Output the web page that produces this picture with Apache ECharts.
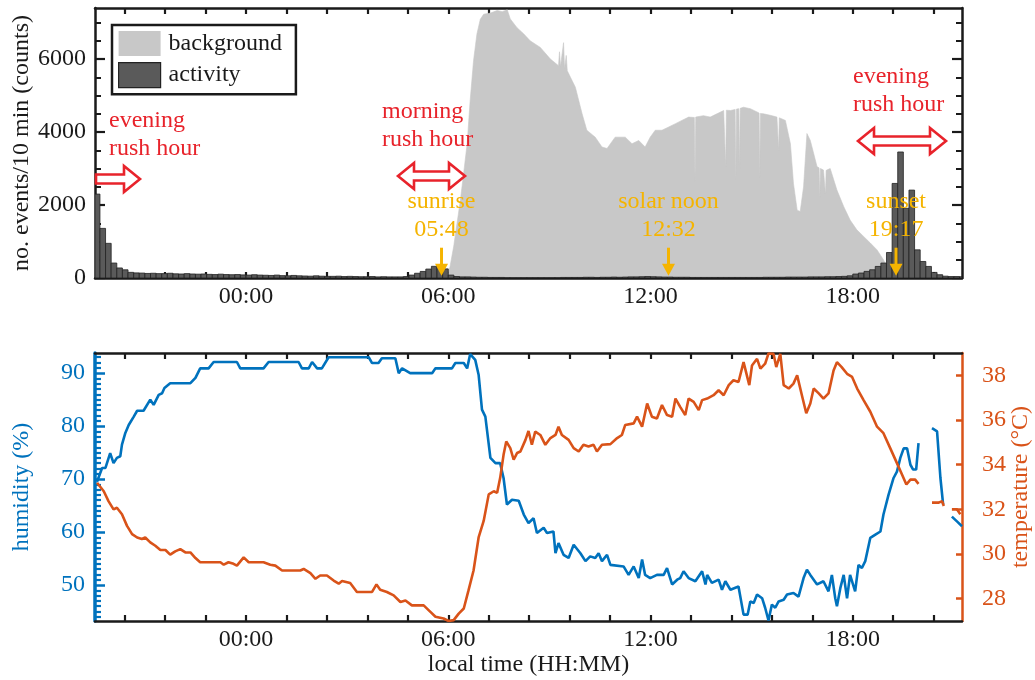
<!DOCTYPE html>
<html><head><meta charset="utf-8">
<script src="https://cdn.jsdelivr.net/npm/echarts@6/dist/echarts.min.js"></script>
<style>html,body{margin:0;padding:0;background:#fff}#c{width:1035px;height:680px}</style>
</head><body><div id="c"></div>
<script>
// ---------------- data ----------------
// x values are hours relative to local midnight (negative = previous evening)
const xTickHours = [-3.6,-2.4,-1.2,0,1.2,2.4,3.6,4.8,6,7.2,8.4,9.6,10.8,12,13.2,14.4,15.6,16.8,18,19.2,20.4];
const xLabelHours = [0,6,12,18];
const countLabels = [0,2000,4000,6000];
const countMinorTicks = [500,1000,1500,2500,3000,3500,4500,5000,5500,6500,7000];
const humidityLabels = [50,60,70,80,90];
const humidityMinorTicks = [44,45,46,47,48,49,51,52,53,54,55,56,57,58,59,61,62,63,64,65,66,67,68,69,71,72,73,74,75,76,77,78,79,81,82,83,84,85,86,87,88,89,91,92,93];
const temperatureLabels = [28,30,32,34,36,38];

// activity: 10-min bins starting 19:30 (previous day)
const activityFirstBin = -4.5;
const activityBinHours = 1/6;
const activity = [
  2300,1360,950,410,275,225,   // 19:30
  155,140,135,125,130,120,     // 20:30
  120,130,115,110,120,110,     // 21:30
  105,110,100,95,105,95,       // 22:30
  90,95,85,80,90,80,           // 23:30
  75,70,80,65,60,70,           // 00:30
  60,55,50,60,50,45,           // 01:30
  45,50,40,45,40,35,           // 02:30
  35,40,30,35,30,30,           // 03:30
  30,40,80,130,180,245,        // 04:30
  320,360,250,80,40,30,        // 05:30
  30,25,20,20,15,15,           // 06:30
  15,10,10,10,10,10,           // 07:30
  10,10,10,10,10,15,           // 08:30
  15,15,15,20,20,15,           // 09:30
  20,20,25,20,25,30,           // 10:30
  30,35,40,35,30,25,           // 11:30
  25,20,20,20,15,15,           // 12:30
  15,15,15,15,15,15,           // 13:30
  15,15,15,15,15,20,           // 14:30
  20,20,20,25,25,25,           // 15:30
  25,30,30,30,35,35,           // 16:30
  40,45,60,108,136,181,        // 17:30
  226,317,409,699,2592,3454,   // 18:30
  1910,2409,772,453,317,153,   // 19:30
  90,50,40,40,35,35            // 20:30
];

// background counts per 10 min  [hour, counts]
const background = [
  [5.95,0],[6.05,300],[6.16,860],[6.26,1500],[6.36,2140],[6.46,2900],[6.56,3680],[6.65,4870],[6.75,5960],
  [6.85,6690],[6.95,7090],[7.05,7230],[7.25,7260],[7.45,7330],[7.6,7300],[7.75,7350],[7.84,7100],[8.04,6860],
  [8.24,6690],[8.43,6500],[8.73,6320],[9.03,6000],[9.27,5820],[9.30,6200],[9.33,5800],[9.42,6450],[9.45,5750],
  [9.50,6100],[9.53,5680],[9.77,5230],[9.97,4500],[10.11,4050],[10.36,3860],[10.56,3590],[10.71,3550],[10.95,3860],
  [11.25,3860],[11.45,3680],[11.65,3770],[11.84,3590],[11.99,3860],[12.14,4050],[12.34,4050],[12.54,4140],
  [12.74,4230],[12.93,4320],[13.13,4410],[13.30,4400],[13.32,2640],[13.34,4410],[13.57,4450],[13.77,4410],
  [13.97,4500],[14.17,4590],[14.21,4590],[14.23,3050],[14.25,4600],[14.37,4590],[14.51,4620],[14.53,2700],
  [14.55,4630],[14.62,4640],[14.64,3000],[14.66,4650],[14.76,4680],[14.96,4640],[15.16,4550],[15.22,4520],
  [15.24,2750],[15.26,4510],[15.35,4500],[15.55,4460],[15.75,4410],[15.78,4400],[15.80,3500],[15.82,4390],
  [16.0,4320],[16.15,3680],[16.24,2590],[16.35,1860],[16.44,1820],[16.54,2500],[16.64,3960],[16.74,3770],
  [16.84,3410],[16.94,3050],[17.00,3020],[17.02,2200],[17.04,3000],[17.13,2960],[17.17,2950],[17.19,2300],
  [17.21,2950],[17.33,3000],[17.53,2410],[17.73,1960],[17.92,1590],[18.12,1320],[18.32,1140],[18.52,960],
  [18.72,770],[18.91,500],[19.11,140],[19.21,0]
];

// humidity (%)  [hour, value]; null = gap
const humidity = [
  [-4.42,69.5],[-4.27,72.1],[-4.17,72.1],[-4.03,74.9],[-3.93,73.0],[-3.83,74.0],[-3.73,74.3],[-3.68,76.5],
  [-3.58,78.7],[-3.48,80.2],[-3.33,81.8],[-3.23,82.9],[-3.04,82.9],[-2.84,85.0],[-2.74,84.0],[-2.59,85.9],
  [-2.49,86.2],[-2.42,87.2],[-2.25,88.1],[-1.65,88.1],[-1.50,89.1],[-1.36,90.9],[-1.11,90.9],[-0.96,92.1],
  [-0.27,92.1],[-0.17,90.9],[0.52,90.9],[0.67,92.1],[1.56,92.1],[1.66,90.9],[1.86,90.9],[1.96,92.1],
  [2.11,90.9],[2.25,90.9],[2.45,93.0],[3.64,93.0],[3.74,91.9],[3.93,91.9],[4.03,92.8],[4.43,92.8],
  [4.53,90.0],[4.63,90.9],[4.87,90.0],[5.52,90.0],[5.62,90.9],[6.11,90.9],[6.21,91.9],[6.46,91.9],
  [6.56,90.9],[6.65,93.6],[6.80,92.5],[6.90,89.7],[7.00,83.1],[7.10,81.8],[7.25,74.0],[7.40,73.0],
  [7.54,73.0],[7.64,70.2],[7.74,65.2],[7.89,66.1],[8.09,65.9],[8.24,63.3],[8.38,61.7],[8.53,62.6],
  [8.63,59.8],[8.83,60.8],[8.93,59.8],[9.12,60.1],[9.18,56.0],[9.27,57.9],[9.42,55.7],[9.57,55.1],
  [9.72,57.6],[9.92,56.0],[10.07,54.5],[10.21,55.4],[10.36,55.1],[10.46,56.0],[10.56,54.5],[10.71,55.7],
  [10.81,53.8],[11.20,53.5],[11.35,51.9],[11.50,53.5],[11.65,51.3],[11.75,54.8],[11.84,51.9],[11.99,51.3],
  [12.19,51.9],[12.39,51.9],[12.49,53.2],[12.64,50.1],[12.79,51.0],[12.88,51.3],[12.98,52.6],[13.13,51.3],
  [13.33,50.7],[13.53,52.6],[13.63,50.1],[13.68,51.9],[13.82,50.4],[14.02,51.0],[14.12,49.1],[14.22,50.7],
  [14.37,49.1],[14.61,49.7],[14.76,44.4],[14.88,44.4],[14.96,46.9],[15.06,46.6],[15.16,48.2],[15.31,47.5],
  [15.40,45.7],[15.50,43.3],[15.60,46.3],[15.70,45.7],[15.80,46.9],[15.95,47.2],[16.05,48.2],[16.24,48.5],
  [16.39,47.8],[16.54,51.3],[16.64,52.9],[16.74,51.9],[16.94,50.1],[17.13,50.7],[17.28,48.8],[17.38,51.9],
  [17.48,47.5],[17.53,46.0],[17.63,49.4],[17.73,51.9],[17.83,47.5],[17.92,51.9],[18.07,48.8],[18.17,53.8],
  [18.27,53.2],[18.37,54.5],[18.52,58.9],[18.67,59.5],[18.82,60.1],[18.91,63.3],[19.06,67.0],[19.21,70.2],
  [19.31,71.4],[19.41,74.0],[19.51,75.8],[19.61,75.8],[19.71,72.7],[19.79,71.8],[19.88,71.8],[19.95,76.8],
  null,
  [20.35,79.6],[20.50,79.0],[20.60,70.2],[20.68,65.2],
  null,
  [20.94,62.9],[21.09,62.0],[21.24,61.1]
];

// temperature (°C)  [hour, value]; null = gap
const temperature = [
  [-4.42,33.19],[-4.22,32.81],[-4.08,32.37],[-3.93,32.0],[-3.83,32.07],[-3.68,31.78],[-3.53,31.26],[-3.38,30.89],
  [-3.23,30.74],[-3.09,30.67],[-2.99,30.74],[-2.84,30.52],[-2.69,30.37],[-2.54,30.18],[-2.39,30.18],[-2.25,29.97],
  [-2.10,30.12],[-1.95,30.22],[-1.80,30.07],[-1.65,30.07],[-1.50,29.82],[-1.36,29.63],[-0.76,29.63],[-0.66,29.52],
  [-0.52,29.63],[-0.37,29.56],[-0.27,29.48],[-0.07,29.85],[0.08,29.63],[0.52,29.63],[0.72,29.52],[0.87,29.48],
  [1.07,29.26],[1.61,29.26],[1.71,29.33],[1.91,29.14],[2.06,28.89],[2.20,29.04],[2.40,29.04],[2.60,28.81],
  [2.75,28.67],[2.85,28.79],[3.09,28.70],[3.29,28.30],[3.74,28.30],[3.87,28.64],[3.98,28.40],[4.18,28.30],
  [4.38,28.15],[4.58,27.85],[4.73,27.92],[4.92,27.70],[5.27,27.70],[5.47,27.41],[5.62,27.19],[5.86,27.11],
  [6.01,27.0],[6.16,27.04],[6.31,27.33],[6.46,27.56],[6.60,28.37],[6.75,29.26],[6.90,30.74],[7.05,31.48],
  [7.20,32.67],[7.35,32.81],[7.45,32.74],[7.54,33.41],[7.64,34.44],[7.72,35.04],[7.84,34.74],[7.94,34.22],
  [8.04,34.52],[8.14,34.59],[8.29,35.11],[8.38,35.51],[8.48,34.89],[8.58,35.48],[8.73,35.33],[8.88,34.89],
  [9.03,35.19],[9.18,35.33],[9.27,35.70],[9.37,35.33],[9.57,35.11],[9.72,34.74],[9.87,34.59],[10.01,34.89],
  [10.16,34.81],[10.31,34.89],[10.41,34.59],[10.56,34.89],[10.81,34.92],[11.01,35.19],[11.15,35.33],[11.25,35.78],
  [11.50,35.85],[11.60,36.15],[11.75,35.70],[11.90,36.74],[12.04,36.15],[12.19,36.07],[12.34,36.67],[12.49,36.22],
  [12.64,36.15],[12.74,36.96],[12.88,36.59],[13.03,36.22],[13.13,36.96],[13.28,36.81],[13.43,36.44],[13.53,36.89],
  [13.68,36.96],[13.87,37.11],[14.02,37.33],[14.17,37.11],[14.32,37.56],[14.46,37.78],[14.61,37.70],[14.76,38.59],
  [14.93,37.56],[15.01,38.44],[15.16,38.74],[15.26,38.30],[15.40,38.52],[15.50,38.98],[15.65,38.96],[15.73,38.37],
  [15.85,38.96],[15.95,37.56],[16.10,37.41],[16.24,37.63],[16.35,38.0],[16.49,37.11],[16.62,36.30],[16.74,36.74],
  [16.84,37.41],[16.99,37.19],[17.13,36.96],[17.28,37.19],[17.43,38.22],[17.53,38.59],[17.67,38.37],[17.83,38.07],
  [17.98,37.93],[18.13,37.41],[18.32,36.89],[18.52,36.37],[18.72,35.70],[18.91,35.41],[19.11,34.74],[19.31,34.07],
  [19.46,33.56],[19.59,33.11],[19.71,33.33],[19.85,33.33],[19.95,33.14],
  null,
  [20.35,32.30],[20.55,32.30],[20.65,32.37],[20.70,32.15],
  null,
  [20.94,32.0],[21.09,32.0],[21.19,31.78]
];

const sunEventNames = ['sunrise','solar noon','sunset'];
const sunEventTimes = ['05:48','12:32','19:17'];

// ---------------- chart ----------------
const SERIF = "'Liberation Serif','Times New Roman',serif";
const BLUE = '#0072bd', ORANGE = '#d95319', RED = '#e8232b', GOLD = '#f5b400', INK = '#1a1a1a';
const X_MIN = -4.48, X_MAX = 21.24;

function hhmm(v){ const h = ((Math.round(v) % 24) + 24) % 24; return String(h).padStart(2,'0') + ':00'; }
function plain(v){ return String(v); }

function xAxisDef(grid, pos, showLabels, extra){
  return Object.assign({
    type:'value', gridIndex:grid, position:pos, min:X_MIN, max:X_MAX,
    axisLine:{show:true, onZero:false, lineStyle:{color:INK, width:2.5}},
    axisTick:{show:true, inside:true, length:6, customValues:xTickHours, lineStyle:{color:INK, width:2.2}},
    axisLabel:{show:showLabels, customValues:xLabelHours, formatter:hhmm, fontFamily:SERIF, fontSize:24, color:INK, margin:7},
    splitLine:{show:false}
  }, extra || {});
}

const chart = echarts.init(document.getElementById('c'));
const option = {
  animation:false,
  backgroundColor:'#fff',
  grid:[
    {left:95, top:8, width:867, height:270, containLabel:false, outerBoundsMode:'none'},
    {left:95, top:353, width:867, height:268, containLabel:false, outerBoundsMode:'none'}
  ],
  legend:{
    left:112, top:25, orient:'vertical', selectedMode:false,
    padding:[6,14,6,6], itemGap:6, itemWidth:42, itemHeight:25,
    borderColor:INK, borderWidth:2.5, backgroundColor:'#fff',
    textStyle:{fontFamily:SERIF, fontSize:24, color:INK, padding:[0,0,0,3]},
    data:[
      {name:'background', icon:'rect', itemStyle:{color:'#c8c8c8', borderWidth:0}},
      {name:'activity', icon:'rect', itemStyle:{color:'#5a5a5a', borderColor:'#222', borderWidth:1.2}}
    ]
  },
  xAxis:[
    xAxisDef(0,'bottom',true),
    xAxisDef(0,'top',false),
    xAxisDef(1,'bottom',true,{name:'local time (HH:MM)', nameLocation:'middle', nameGap:32, nameMoveOverlap:false,
      nameTextStyle:{fontFamily:SERIF, fontSize:24, color:INK}}),
    xAxisDef(1,'top',false)
  ],
  yAxis:[
    {type:'value', gridIndex:0, position:'left', min:0, max:7400,
     name:'no. events/10 min (counts)', nameLocation:'middle', nameGap:61, nameRotate:90, nameMoveOverlap:false,
     nameTextStyle:{fontFamily:SERIF, fontSize:24, color:INK},
     axisLine:{show:true, onZero:false, lineStyle:{color:INK, width:2.5}},
     axisTick:{show:true, inside:true, length:10, customValues:countLabels, lineStyle:{color:INK, width:2.2}},
     axisLabel:{customValues:countLabels, formatter:plain, fontFamily:SERIF, fontSize:24, color:INK, margin:9},
     splitLine:{show:false}},
    {type:'value', gridIndex:0, position:'left', min:0, max:7400,
     axisLine:{show:false, onZero:false},
     axisTick:{show:true, inside:true, length:6, customValues:countMinorTicks, lineStyle:{color:INK, width:2}},
     axisLabel:{show:false}, splitLine:{show:false}},
    {type:'value', gridIndex:0, position:'right', min:0, max:7400,
     axisLine:{show:true, onZero:false, lineStyle:{color:INK, width:2.5}},
     axisTick:{show:true, inside:true, length:10, customValues:countLabels, lineStyle:{color:INK, width:2.2}},
     axisLabel:{show:false}, splitLine:{show:false}},
    {type:'value', gridIndex:0, position:'right', min:0, max:7400,
     axisLine:{show:false, onZero:false},
     axisTick:{show:true, inside:true, length:6, customValues:countMinorTicks, lineStyle:{color:INK, width:2}},
     axisLabel:{show:false}, splitLine:{show:false}},
    {type:'value', gridIndex:1, position:'left', min:43.2, max:93.8,
     name:'humidity (%)', nameLocation:'middle', nameGap:61, nameRotate:90, nameMoveOverlap:false,
     nameTextStyle:{fontFamily:SERIF, fontSize:24, color:BLUE},
     axisLine:{show:true, onZero:false, lineStyle:{color:BLUE, width:3.5}},
     axisTick:{show:true, inside:true, length:10, customValues:humidityLabels, lineStyle:{color:BLUE, width:2.5}},
     axisLabel:{customValues:humidityLabels, formatter:plain, fontFamily:SERIF, fontSize:24, color:BLUE, margin:10},
     splitLine:{show:false}},
    {type:'value', gridIndex:1, position:'left', min:43.2, max:93.8,
     axisLine:{show:false, onZero:false},
     axisTick:{show:true, inside:true, length:6, customValues:humidityMinorTicks, lineStyle:{color:BLUE, width:2.2}},
     axisLabel:{show:false}, splitLine:{show:false}},
    {type:'value', gridIndex:1, position:'right', min:27, max:39,
     name:'temperature (°C)', nameLocation:'middle', nameGap:47, nameRotate:90, nameMoveOverlap:false,
     nameTextStyle:{fontFamily:SERIF, fontSize:24, color:ORANGE},
     axisLine:{show:true, onZero:false, lineStyle:{color:ORANGE, width:2.5}},
     axisTick:{show:true, inside:true, length:6, customValues:temperatureLabels, lineStyle:{color:ORANGE, width:2.5}},
     axisLabel:{customValues:temperatureLabels, formatter:plain, fontFamily:SERIF, fontSize:24, color:ORANGE, margin:20},
     splitLine:{show:false}}
  ],
  series:[
    {name:'background', type:'line', xAxisIndex:0, yAxisIndex:0, data:background,
     showSymbol:false, symbol:'none', z:1,
     lineStyle:{color:'#c8c8c8', width:0.6}, areaStyle:{color:'#c8c8c8', opacity:1}},
    {name:'activity', type:'custom', xAxisIndex:0, yAxisIndex:0, z:3, clip:true,
     data:activity.map((v,i)=>[activityFirstBin + i*activityBinHours, v]),
     renderItem:function(params, api){
       const t = api.value(0), v = api.value(1);
       const p0 = api.coord([t, v]);
       const p1 = api.coord([t + activityBinHours, 0]);
       const shape = echarts.graphic.clipRectByRect(
         {x:p0[0], y:p0[1], width:p1[0]-p0[0], height:p1[1]-p0[1]},
         {x:params.coordSys.x, y:params.coordSys.y, width:params.coordSys.width, height:params.coordSys.height});
       return shape && {type:'rect', shape:shape, style:{fill:'#5a5a5a', stroke:'#222', lineWidth:0.8}};
     },
     itemStyle:{color:'#5a5a5a'}},
    {name:'humidity', type:'line', xAxisIndex:2, yAxisIndex:4, data:humidity, showSymbol:false, symbol:'none',
     connectNulls:false, z:3, lineStyle:{color:BLUE, width:2.6}},
    {name:'temperature', type:'line', xAxisIndex:2, yAxisIndex:6, data:temperature, showSymbol:false, symbol:'none',
     connectNulls:false, z:4, lineStyle:{color:ORANGE, width:2.6}}
  ]
};
chart.setOption(option);

// ---------------- annotations ----------------
function px(h, v){ return chart.convertToPixel({xAxisIndex:0, yAxisIndex:0}, [h, v]); }
function toHour(s){ const p = s.split(':'); return (+p[0]) + (+p[1])/60; }

const gfx = [];
function hollowArrow(x1, x2, y, leftHead, rightHead){
  const hl = 16, hh = 13, sh = 4.5;
  const pts = [];
  if (leftHead){ pts.push([x1,y],[x1+hl,y-hh],[x1+hl,y-sh]); } else { pts.push([x1,y-sh]); }
  if (rightHead){ pts.push([x2-hl,y-sh],[x2-hl,y-hh],[x2,y],[x2-hl,y+hh],[x2-hl,y+sh]); } else { pts.push([x2,y-sh],[x2,y+sh]); }
  if (leftHead){ pts.push([x1+hl,y+sh],[x1+hl,y+hh]); } else { pts.push([x1,y+sh]); }
  gfx.push({type:'polygon', z:50, shape:{points:pts}, style:{fill:'#fff', stroke:RED, lineWidth:2.6, lineJoin:'miter'}});
}
function redText(x, y, s){
  gfx.push({type:'text', z:50, x:x, y:y, style:{text:s, fill:RED, font:'24px ' + SERIF, textAlign:'left', textVerticalAlign:'middle'}});
}
function goldText(x, y, s){
  gfx.push({type:'text', z:50, x:x, y:y, style:{text:s, fill:GOLD, font:'24px ' + SERIF, textAlign:'center', textVerticalAlign:'middle'}});
}

// rush hours
redText(109, 121, 'evening'); redText(109, 149, 'rush hour');
hollowArrow(96, 140, 179, false, true);
redText(382, 112, 'morning'); redText(382, 140, 'rush hour');
hollowArrow(398, 465, 176, true, true);
redText(853, 77, 'evening'); redText(853, 105, 'rush hour');
hollowArrow(858, 946, 141, true, true);

// sun events
sunEventNames.forEach(function(name, i){
  const h = toHour(sunEventTimes[i]);
  const tail = px(h, 830), headStart = px(h, 390), tip = px(h, 60);
  const x = tail[0];
  goldText(x, 202, name);
  goldText(x, 230, sunEventTimes[i]);
  gfx.push({type:'line', z:50, shape:{x1:x, y1:tail[1], x2:x, y2:headStart[1]+2}, style:{stroke:GOLD, lineWidth:3}});
  gfx.push({type:'polygon', z:50, shape:{points:[[x-6.5, headStart[1]],[x+6.5, headStart[1]],[x, tip[1]]]}, style:{fill:GOLD}});
});

chart.setOption({graphic:gfx});
</script>
</body></html>
